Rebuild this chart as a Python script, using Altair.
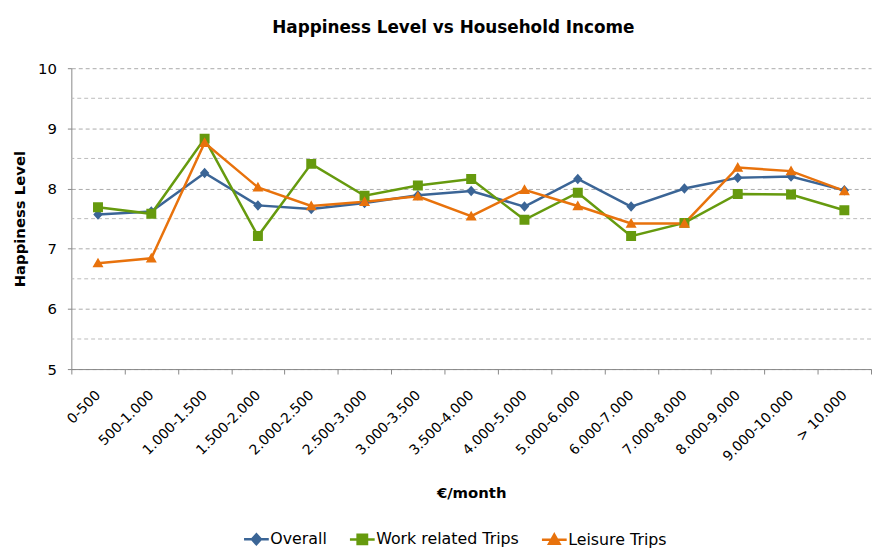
import altair as alt
import pandas as pd

categories = ["0-500", "500-1.000", "1.000-1.500", "1.500-2.000", "2.000-2.500",
              "2.500-3.000", "3.000-3.500", "3.500-4.000", "4.000-5.000", "5.000-6.000",
              "6.000-7.000", "7.000-8.000", "8.000-9.000", "9.000-10.000", "> 10.000"]
overall = [7.57, 7.62, 8.26, 7.72, 7.66, 7.76, 7.89, 7.96, 7.70, 8.16, 7.70, 8.00, 8.18, 8.20, 7.97]
work = [7.69, 7.58, 8.83, 7.21, 8.41, 7.88, 8.05, 8.16, 7.48, 7.93, 7.21, 7.43, 7.91, 7.90, 7.64]
leisure = [6.76, 6.84, 8.76, 8.02, 7.71, 7.78, 7.87, 7.54, 7.98, 7.71, 7.42, 7.42, 8.35, 8.29, 7.96]

series = ["Overall", "Work related Trips", "Leisure Trips"]
colors = ["#3B6596", "#669A0E", "#E8720C"]
shape_paths = [
    "M-1,0H1M0,-0.4L0.36,0L0,0.4L-0.36,0Z",
    "M-1,0H1M-0.38,-0.38H0.38V0.38H-0.38Z",
    "M-1,0H1M0,-0.42L0.42,0.32H-0.42Z",
]
half_grid = [5.5, 6.5, 7.5, 8.5, 9.5]

rows = []
for name, vals in zip(series, [overall, work, leisure]):
    for c, v in zip(categories, vals):
        rows.append({"income": c, "series": name, "value": v})
df = pd.DataFrame(rows)

FONT = "DejaVu Sans"

x_enc = alt.X("income:N", sort=categories,
              scale=alt.Scale(type="band", paddingInner=0, paddingOuter=0),
              axis=alt.Axis(title="€/month", labelAngle=-45, labelAlign="right",
                            labelBaseline="middle", labelFontSize=14, labelPadding=19,
                            tickBand="extent", tickSize=5, tickColor="#888888",
                            domainColor="#888888", labelColor="#000000",
                            titleFontSize=15, titleFontWeight="bold", titlePadding=22,
                            grid=False))
y_enc = alt.Y("value:Q", scale=alt.Scale(domain=[5, 10], nice=False, zero=False),
              axis=alt.Axis(title="Happiness Level", values=[5, 6, 7, 8, 9, 10], format="d",
                            labelFontSize=15, labelPadding=11, tickSize=4,
                            tickColor="#888888", domainColor="#888888", labelColor="#000000",
                            grid=True, gridDash=[4, 3], gridColor="#AAAAAA",
                            titleFontSize=15, titleFontWeight="bold", titlePadding=10))

legend = alt.Legend(title=None, orient="none", direction="horizontal", legendX=173, legendY=462,
                    symbolSize=625, symbolStrokeWidth=2.5, labelFontSize=16,
                    labelColor="#000000", columnPadding=17, labelOffset=0)
color_scale = alt.Scale(domain=series, range=colors)
shape_scale = alt.Scale(domain=series, range=shape_paths)

grid_df = pd.DataFrame({"g": half_grid})
half_rules = alt.Chart(grid_df).mark_rule(strokeDash=[4, 3], color="#BBBBBB", strokeWidth=1).encode(
    y=alt.Y("g:Q", scale=alt.Scale(domain=[5, 10], nice=False, zero=False))
)

base = alt.Chart(df)
lines = base.mark_line(strokeWidth=2.5).encode(
    x=x_enc, y=y_enc,
    color=alt.Color("series:N", scale=color_scale, legend=legend),
    detail="series:N",
)
points = base.mark_point(filled=True, size=700, opacity=1).encode(
    x=x_enc, y=y_enc,
    color=alt.Color("series:N", scale=color_scale, legend=legend),
    shape=alt.Shape("series:N", scale=shape_scale, legend=legend),
)
legend_layer = base.transform_filter("datum.value > 100").mark_point(filled=True, size=625).encode(
    x=x_enc, y=y_enc,
    color=alt.Color("series:N", scale=color_scale, legend=legend),
    shape=alt.Shape("series:N", scale=shape_scale, legend=legend),
    stroke=alt.Stroke("series:N", scale=alt.Scale(domain=series, range=colors), legend=legend),
)

chart = alt.layer(half_rules, lines, points, legend_layer).properties(
    width=808, height=304,
    padding={"left": 4, "top": 8, "right": 0, "bottom": 0},
    title=alt.TitleParams("Happiness Level vs Household Income", fontSize=17,
                          fontWeight="bold", font=FONT, offset=25, anchor="middle", dx=-18),
).configure(font=FONT).configure_view(stroke=None).configure_axis(
    labelFont=FONT, titleFont=FONT
).configure_legend(labelFont=FONT)

chart.save("out.html", embed_options={"renderer": "svg", "actions": False})
